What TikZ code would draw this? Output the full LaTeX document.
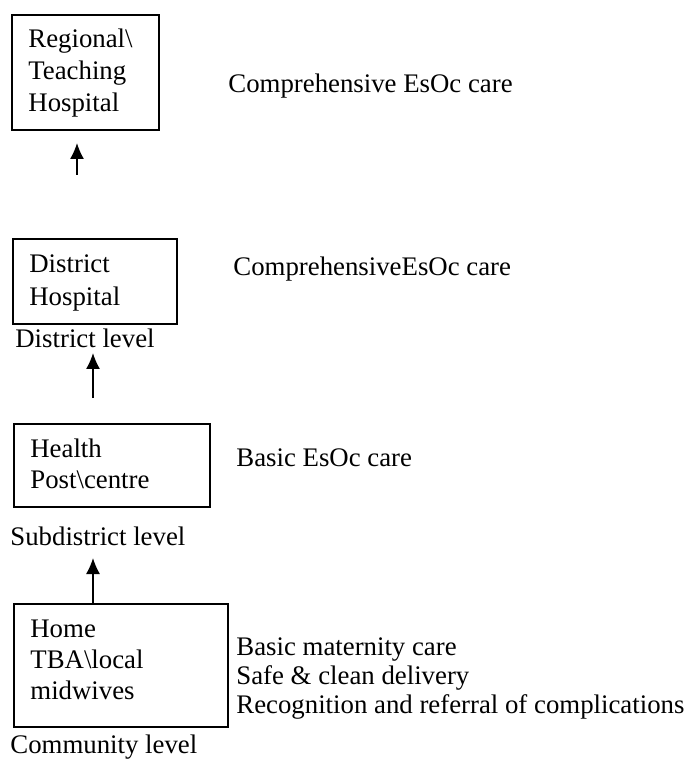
\documentclass[tikz,border=0pt]{standalone}
\usepackage{fontspec}
\setmainfont{Liberation Serif}
\usetikzlibrary{arrows.meta}
\begin{document}
\begin{tikzpicture}[x=0.5pt,y=-0.5pt,
  box/.style={draw, line width=0.9pt, anchor=north west, inner sep=0pt},
  txt/.style={anchor=base west, inner sep=0pt, font=\fontsize{13.4}{16}\selectfont},
  up/.style={-{Latex[length=8pt,width=7pt]}, line width=0.7pt}]
\useasboundingbox (0,0) rectangle (694,763);
% boxes
\node[box, minimum width=73.5pt, minimum height=57.5pt] (b1) at (11,14) {};
\node[box, minimum width=82pt, minimum height=42.5pt] (b2) at (12,238) {};
\node[box, minimum width=98pt, minimum height=41.5pt] (b3) at (13,423) {};
\node[box, minimum width=107pt, minimum height=61.5pt] (b4) at (13,603) {};
% box texts
\node[txt] (t11) at (28,48) {Regional\textbackslash};
\node[txt] (t12) at (28,80) {Teaching};
\node[txt] (t13) at (28,112) {Hospital};
\node[txt] (t21) at (29,273) {District};
\node[txt] (t22) at (29,306) {Hospital};
\node[txt] (t31) at (30,457) {Health};
\node[txt] (t32) at (30,488) {Post\textbackslash centre};
\node[txt] (t41) at (30,637) {Home};
\node[txt] (t42) at (30,668) {TBA\textbackslash local};
\node[txt] (t43) at (30,699) {midwives};
% level labels
\node[txt] (l2) at (15,348) {District level};
\node[txt] (l3) at (10,545) {Subdistrict level};
\node[txt] (l4) at (10,753) {Community level};
% care labels
\node[txt] (c1) at (228,93) {Comprehensive EsOc care};
\node[txt] (c2) at (233,276) {ComprehensiveEsOc care};
\node[txt] (c3) at (236,466) {Basic EsOc care};
\node[txt] (c41) at (236,655) {Basic maternity care};
\node[txt] (c42) at (236,684) {Safe \& clean delivery};
\node[txt] (c43) at (236,713) {Recognition and referral of complications};
% arrows
\coordinate (a1s) at (77,175); \coordinate (a1e) at (77,143);
\coordinate (a2s) at (93,398); \coordinate (a2e) at (93,353);
\coordinate (a3s) at (93,603); \coordinate (a3e) at (93,558);
\draw[up] (a1s) -- (a1e);
\draw[up] (a2s) -- (a2e);
\draw[up] (a3s) -- (a3e);
\end{tikzpicture}
\end{document}
